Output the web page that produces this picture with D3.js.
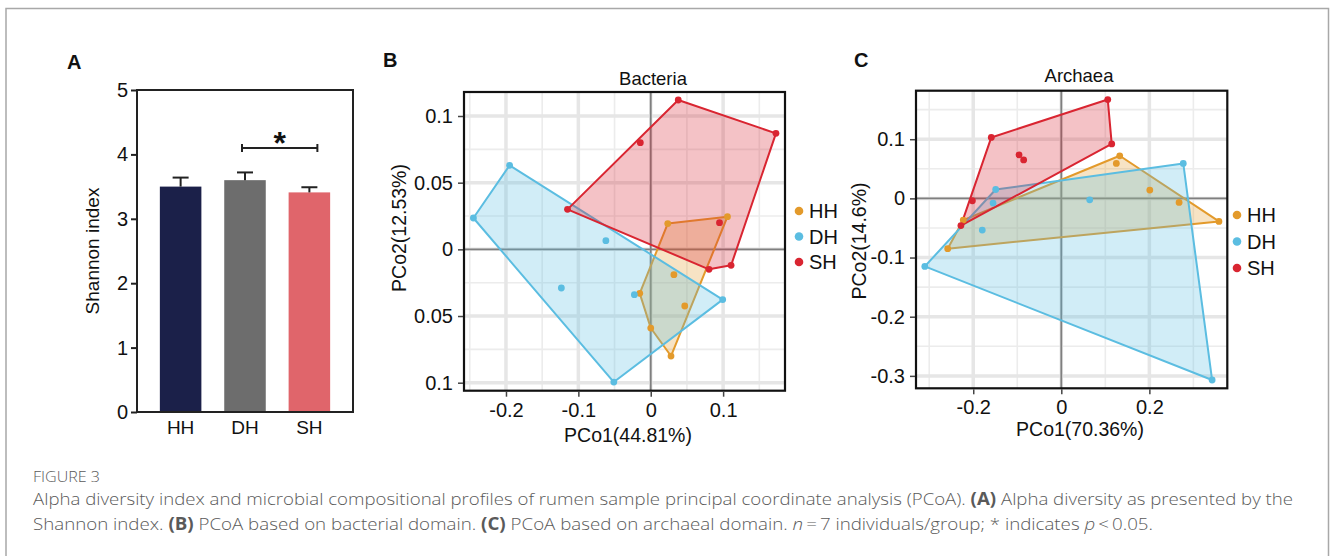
<!DOCTYPE html>
<html>
<head>
<meta charset="utf-8">
<script src="https://cdn.jsdelivr.net/npm/d3@7"></script>
<style>
  body { margin: 0; background: #fff; }
  svg { display: block; }
  svg text { font-family: 'Liberation Sans', Arial, Helvetica, sans-serif; fill: #111; }
  svg text.cap { font-family: 'Open Sans', 'Lato', sans-serif; fill: #5a5a5a; font-weight: 300; }
</style>
</head>
<body>
<svg id="fig" width="1330" height="556"></svg>
<script>
// ---- data ----
const groups = ['HH', 'DH', 'SH'];
const barColors = ['#1b2049', '#6d6d6d', '#e0656b'];
const shannonMean = [3.50, 3.60, 3.41];
const shannonSE = [0.14, 0.12, 0.08];
const shannonTicks = [0, 1, 2, 3, 4, 5];

const groupColors = { HH: '#e39a2b', DH: '#5bbde1', SH: '#d92531' };

// PCoA bacteria, [PCo1, PCo2]
const bacHH = [[0.0235, 0.0193], [0.106, 0.0245], [0.032, -0.019], [0.047, -0.0425], [-0.0152, -0.033], [0.0, -0.059], [0.028, -0.080]];
const bacDH = [[-0.195, 0.063], [-0.245, 0.0235], [-0.062, 0.0065], [-0.1235, -0.029], [-0.0226, -0.034], [0.0994, -0.0377], [-0.051, -0.0995]];
const bacSH = [[-0.115, 0.030], [0.038, 0.112], [0.173, 0.087], [-0.0144, 0.080], [0.095, 0.020], [0.111, -0.012], [0.0805, -0.015]];
const bacXTicks = [-0.2, -0.1, 0, 0.1];
const bacXLabels = ['-0.2', '-0.1', '0', '0.1'];
const bacYTicks = [0.1, 0.05, 0, -0.05, -0.1];
const bacYLabels = ['0.1', '0.05', '0', '0.05', '0.1'];

// PCoA archaea, [PCo1, PCo2]
const arcHH = [[0.1327, 0.072], [0.125, 0.059], [0.201, 0.014], [0.2675, -0.0068], [0.358, -0.0389], [-0.2227, -0.0367], [-0.258, -0.085]];
const arcDH = [[0.277, 0.059], [-0.149, 0.015], [-0.155, -0.008], [0.0645, -0.0024], [-0.1795, -0.0535], [-0.31, -0.115], [0.3425, -0.307]];
const arcSH = [[0.1055, 0.167], [0.1145, 0.092], [-0.159, 0.103], [-0.096, 0.0737], [-0.0855, 0.065], [-0.202, -0.004], [-0.228, -0.046]];
const arcXTicks = [-0.2, 0, 0.2];
const arcXLabels = ['-0.2', '0', '0.2'];
const arcYTicks = [0.1, 0, -0.1, -0.2, -0.3];
const arcYLabels = ['0.1', '0', '-0.1', '-0.2', '-0.3'];

const svg = d3.select('#fig');

// outer frame
svg.append('path')
  .attr('d', 'M6,556 V8.5 H1328.5 V556')
  .attr('fill', 'none').attr('stroke', '#a8a8a8').attr('stroke-width', 1.5);

// panel letters
[['A', 67, 69], ['B', 383, 67], ['C', 854, 67]].forEach(d => {
  svg.append('text').attr('x', d[1]).attr('y', d[2])
    .attr('font-size', 20).attr('font-weight', 'bold').text(d[0]);
});

// ---------- Panel A ----------
const A = { left: 137, right: 353, top: 90, bottom: 412 };
const ax = d3.scaleBand().domain(groups).range([A.left, A.right]).padding(0.355);
const ay = d3.scaleLinear().domain([0, 5]).range([A.bottom, A.top]);
const ga = svg.append('g');

ga.selectAll('rect.bar').data(groups).join('rect')
  .attr('class', 'bar')
  .attr('x', d => ax(d)).attr('width', ax.bandwidth())
  .attr('y', (d, i) => ay(shannonMean[i]))
  .attr('height', (d, i) => ay(0) - ay(shannonMean[i]))
  .attr('fill', (d, i) => barColors[i]);

const err = ga.selectAll('g.err').data(groups).join('g').attr('class', 'err');
err.append('line')
  .attr('x1', d => ax(d) + ax.bandwidth() / 2).attr('x2', d => ax(d) + ax.bandwidth() / 2)
  .attr('y1', (d, i) => ay(shannonMean[i])).attr('y2', (d, i) => ay(shannonMean[i] + shannonSE[i]))
  .attr('stroke', '#222').attr('stroke-width', 2);
err.append('line')
  .attr('x1', d => ax(d) + ax.bandwidth() / 2 - 8).attr('x2', d => ax(d) + ax.bandwidth() / 2 + 8)
  .attr('y1', (d, i) => ay(shannonMean[i] + shannonSE[i])).attr('y2', (d, i) => ay(shannonMean[i] + shannonSE[i]))
  .attr('stroke', '#222').attr('stroke-width', 2);

// frame
ga.append('rect').attr('x', A.left).attr('y', A.top)
  .attr('width', A.right - A.left).attr('height', A.bottom - A.top)
  .attr('fill', 'none').attr('stroke', '#222').attr('stroke-width', 2);

const ayAxis = ga.append('g').attr('transform', `translate(${A.left},0)`)
  .call(d3.axisLeft(ay).tickValues(shannonTicks).tickFormat(d3.format('d')).tickSize(6).tickSizeOuter(0));
ayAxis.select('.domain').remove();
ayAxis.selectAll('line').attr('stroke', '#222').attr('stroke-width', 2);
ayAxis.selectAll('text').attr('font-size', 20).attr('font-family', null);

const axAxis = ga.append('g').attr('transform', `translate(0,${A.bottom})`)
  .call(d3.axisBottom(ax).tickSize(0).tickPadding(9));
axAxis.select('.domain').remove();
axAxis.selectAll('text').attr('font-size', 19).attr('font-family', null);

ga.append('text')
  .attr('transform', `translate(99,${(A.top + A.bottom) / 2}) rotate(-90)`)
  .attr('text-anchor', 'middle').attr('font-size', 19).text('Shannon index');

// significance bracket DH vs SH
const sigY = ay(4.1);
const bx1 = ax('DH') + ax.bandwidth() / 2 - 3, bx2 = ax('SH') + ax.bandwidth() / 2 + 8;
ga.append('path')
  .attr('d', `M${bx1},${sigY - 4} V${sigY + 4} M${bx1},${sigY} H${bx2} M${bx2},${sigY - 4} V${sigY + 4}`)
  .attr('fill', 'none').attr('stroke', '#222').attr('stroke-width', 2);
ga.append('text').attr('x', (bx1 + bx2) / 2).attr('y', sigY + 6)
  .attr('text-anchor', 'middle').attr('font-size', 32).attr('font-weight', 'bold').text('*');

// ---------- PCoA panels ----------
function pcoa(cfg) {
  const g = svg.append('g');
  const x = d3.scaleLinear().domain(cfg.xdom).range([cfg.left, cfg.right]);
  const y = d3.scaleLinear().domain(cfg.ydom).range([cfg.bottom, cfg.top]);

  // grid
  cfg.xMinor.forEach(v => g.append('line').attr('x1', x(v)).attr('x2', x(v))
    .attr('y1', cfg.top).attr('y2', cfg.bottom).attr('stroke', '#ececec').attr('stroke-width', 1.6));
  cfg.yMinor.forEach(v => g.append('line').attr('y1', y(v)).attr('y2', y(v))
    .attr('x1', cfg.left).attr('x2', cfg.right).attr('stroke', '#ececec').attr('stroke-width', 1.6));
  cfg.xTicks.forEach(v => g.append('line').attr('x1', x(v)).attr('x2', x(v))
    .attr('y1', cfg.top).attr('y2', cfg.bottom).attr('stroke', '#e6e6e6').attr('stroke-width', 3.5));
  cfg.yTicks.forEach(v => g.append('line').attr('y1', y(v)).attr('y2', y(v))
    .attr('x1', cfg.left).attr('x2', cfg.right).attr('stroke', '#e6e6e6').attr('stroke-width', 3.5));

  // zero lines
  g.append('line').attr('x1', x(0)).attr('x2', x(0)).attr('y1', cfg.top).attr('y2', cfg.bottom)
    .attr('stroke', '#7f7f7f').attr('stroke-width', 1.8);
  g.append('line').attr('y1', y(0)).attr('y2', y(0)).attr('x1', cfg.left).attr('x2', cfg.right)
    .attr('stroke', '#7f7f7f').attr('stroke-width', 1.8);

  // hulls
  cfg.sets.forEach(s => {
    const hull = d3.polygonHull(s.pts.map(p => [x(p[0]), y(p[1])]));
    g.append('path').attr('d', 'M' + hull.join('L') + 'Z')
      .attr('fill', groupColors[s.name]).attr('fill-opacity', 0.28)
      .attr('stroke', groupColors[s.name]).attr('stroke-width', 2).attr('stroke-linejoin', 'round');
  });
  cfg.sets.forEach(s => {
    g.selectAll(null).data(s.pts).join('circle')
      .attr('cx', p => x(p[0])).attr('cy', p => y(p[1])).attr('r', 3.4)
      .attr('fill', groupColors[s.name]);
  });

  // frame
  g.append('rect').attr('x', cfg.left).attr('y', cfg.top)
    .attr('width', cfg.right - cfg.left).attr('height', cfg.bottom - cfg.top)
    .attr('fill', 'none').attr('stroke', '#111').attr('stroke-width', 2.2);

  const xa = g.append('g').attr('transform', `translate(0,${cfg.bottom + 1})`)
    .call(d3.axisBottom(x).tickValues(cfg.xTicks).tickFormat((d, i) => cfg.xLabels[i]).tickSize(5).tickPadding(6));
  const ya = g.append('g').attr('transform', `translate(${cfg.left - 1},0)`)
    .call(d3.axisLeft(y).tickValues(cfg.yTicks).tickFormat((d, i) => cfg.yLabels[i]).tickSize(5).tickPadding(5));
  [xa, ya].forEach(a => {
    a.select('.domain').remove();
    a.selectAll('line').attr('stroke', '#444').attr('stroke-width', 1.5);
    a.selectAll('text').attr('font-size', 20).attr('font-family', null);
  });

  g.append('text').attr('x', cfg.titleX).attr('y', cfg.titleY)
    .attr('text-anchor', 'middle').attr('font-size', 18.5).text(cfg.title);
  g.append('text').attr('x', cfg.xLabX).attr('y', cfg.xLabY)
    .attr('text-anchor', 'middle').attr('font-size', 19.5).text(cfg.xLab);
  g.append('text').attr('transform', `translate(${cfg.yLabX},${cfg.yLabCY}) rotate(-90)`)
    .attr('text-anchor', 'middle').attr('font-size', 19.5).text(cfg.yLab);

  // legend
  groups.forEach((name, i) => {
    const ly = cfg.legY + i * cfg.legStep;
    g.append('circle').attr('cx', cfg.legX).attr('cy', ly).attr('r', 4.3).attr('fill', groupColors[name]);
    g.append('text').attr('x', cfg.legX + 10).attr('y', ly + 7).attr('font-size', 20).text(name);
  });
}

pcoa({
  left: 464, right: 785, top: 92, bottom: 390.7,
  xdom: [-0.258, 0.1855], ydom: [-0.106, 0.118],
  xTicks: bacXTicks, xLabels: bacXLabels, yTicks: bacYTicks, yLabels: bacYLabels,
  xMinor: [-0.25, -0.15, -0.05, 0.05, 0.15], yMinor: [0.075, 0.025, -0.025, -0.075],
  sets: [{ name: 'HH', pts: bacHH }, { name: 'DH', pts: bacDH }, { name: 'SH', pts: bacSH }],
  title: 'Bacteria', titleX: 653, titleY: 85,
  xLab: 'PCo1(44.81%)', xLabX: 628, xLabY: 442,
  yLab: 'PCo2(12.53%)', yLabX: 406, yLabCY: 228,
  legX: 799, legY: 211, legStep: 25.5
});

pcoa({
  left: 916, right: 1227.3, top: 90.7, bottom: 388.3,
  xdom: [-0.330, 0.377], ydom: [-0.321, 0.182],
  xTicks: arcXTicks, xLabels: arcXLabels, yTicks: arcYTicks, yLabels: arcYLabels,
  xMinor: [-0.3, -0.1, 0.1, 0.3], yMinor: [0.15, 0.05, -0.05, -0.15, -0.25],
  sets: [{ name: 'HH', pts: arcHH }, { name: 'DH', pts: arcDH }, { name: 'SH', pts: arcSH }],
  title: 'Archaea', titleX: 1079, titleY: 82,
  xLab: 'PCo1(70.36%)', xLabX: 1080, xLabY: 436,
  yLab: 'PCo2(14.6%)', yLabX: 866, yLabCY: 241,
  legX: 1237, legY: 215, legStep: 26.5
});

// ---------- caption ----------
svg.append('text').attr('class', 'cap').attr('x', 33).attr('y', 482)
  .attr('font-size', 14).attr('textLength', 67).attr('lengthAdjust', 'spacingAndGlyphs').text('FIGURE 3');

const l1 = svg.append('text').attr('class', 'cap').attr('x', 33).attr('y', 505)
  .attr('font-size', 17).attr('textLength', 1260).attr('lengthAdjust', 'spacingAndGlyphs');
l1.append('tspan').text('Alpha diversity index and microbial compositional profiles of rumen sample principal coordinate analysis (PCoA). ');
l1.append('tspan').attr('font-weight', 'bold').text('(A)');
l1.append('tspan').text(' Alpha diversity as presented by the');

const l2 = svg.append('text').attr('class', 'cap').attr('x', 33).attr('y', 530)
  .attr('font-size', 17).attr('textLength', 1120).attr('lengthAdjust', 'spacingAndGlyphs');
l2.append('tspan').text('Shannon index. ');
l2.append('tspan').attr('font-weight', 'bold').text('(B)');
l2.append('tspan').text(' PCoA based on bacterial domain. ');
l2.append('tspan').attr('font-weight', 'bold').text('(C)');
l2.append('tspan').text(' PCoA based on archaeal domain. ');
l2.append('tspan').attr('font-style', 'italic').text('n');
l2.append('tspan').text('\u2009=\u20097 individuals/group; * indicates ');
l2.append('tspan').attr('font-style', 'italic').text('p');
l2.append('tspan').text('\u2009<\u20090.05.');
</script>
</body>
</html>
